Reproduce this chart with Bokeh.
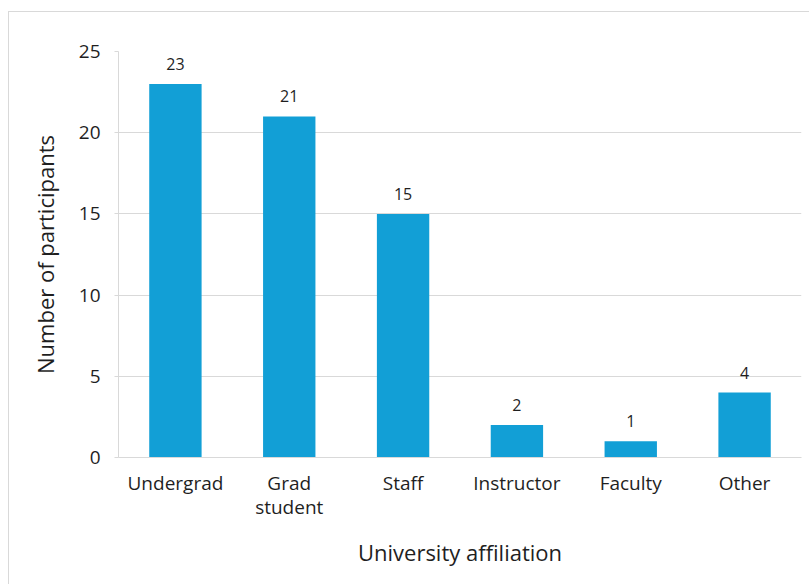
from bokeh.plotting import figure
from bokeh.models import ColumnDataSource, Range1d, FactorRange, Spacer, LabelSet
from bokeh.core.properties import value
from bokeh.layouts import column, row
from bokeh.embed import file_html
from bokeh.resources import INLINE

categories = ["Undergrad", "Grad\nstudent", "Staff", "Instructor", "Faculty", "Other"]
participants = [23, 21, 15, 2, 1, 4]
y_ticks = [0, 5, 10, 15, 20, 25]

FONT = "Open Sans"
TEXT = "#1f1f1f"
GRID = "#d9d9d9"
BAR = "#129fd6"

source = ColumnDataSource(dict(cat=categories, val=participants,
                               lab=[str(v) for v in participants]))

p = figure(width=801, height=573, x_range=FactorRange(*categories),
           y_range=Range1d(0, 25), output_backend="svg", toolbar_location=None,
           min_border_left=109, min_border_right=9, min_border_top=39,
           min_border_bottom=128)
p.styles = {"border-left": "1px solid #d9d9d9", "border-top": "1px solid #d9d9d9"}

p.vbar(x="cat", top="val", width=0.46, source=source, fill_color=BAR, line_color=None)

labels = LabelSet(x="cat", y="val", text="lab", source=source, text_align="center",
                  text_baseline="bottom", y_offset=14, text_font=value(FONT),
                  text_font_size="16px", text_color=TEXT)
p.add_layout(labels)

p.outline_line_color = None
p.background_fill_color = "white"
p.border_fill_color = "white"

p.xgrid.grid_line_color = None
p.ygrid.grid_line_color = GRID
p.ygrid.grid_line_width = 1

p.yaxis.ticker = y_ticks
p.yaxis.axis_line_color = GRID
p.yaxis.major_tick_line_color = GRID
p.yaxis.major_tick_out = 4
p.yaxis.major_tick_in = 0
p.yaxis.minor_tick_line_color = GRID
p.yaxis.minor_tick_out = 4
p.yaxis.minor_tick_in = 0
p.yaxis.ticker.num_minor_ticks = 5
p.yaxis.major_label_text_font = FONT
p.yaxis.major_label_text_font_size = "19px"
p.yaxis.major_label_text_color = TEXT
p.yaxis.major_label_standoff = 14
p.yaxis.axis_label = "Number of participants"
p.yaxis.axis_label_text_font = FONT
p.yaxis.axis_label_text_font_size = "22px"
p.yaxis.axis_label_text_font_style = "normal"
p.yaxis.axis_label_text_color = TEXT
p.yaxis.axis_label_standoff = 16

p.xaxis.axis_line_color = GRID
p.xaxis.major_tick_line_color = None
p.xaxis.minor_tick_line_color = None
p.xaxis.major_label_text_font = FONT
p.xaxis.major_label_text_font_size = "19px"
p.xaxis.major_label_text_line_height = 0.95
p.xaxis.major_label_text_color = TEXT
p.xaxis.major_label_standoff = 6
p.xaxis.axis_label = "University affiliation"
p.xaxis.axis_label_text_font = FONT
p.xaxis.axis_label_text_font_size = "22px"
p.xaxis.axis_label_text_font_style = "normal"
p.xaxis.axis_label_text_color = TEXT
p.xaxis.axis_label_standoff = 14

layout = column(Spacer(height=11), row(Spacer(width=8), p))

open("out.html", "w").write(file_html(layout, INLINE))
